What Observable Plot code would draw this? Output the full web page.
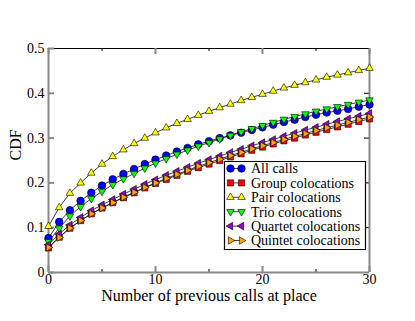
<!DOCTYPE html>
<html><head><meta charset="utf-8">
<script src="https://cdn.jsdelivr.net/npm/d3@7"></script>
<script src="https://cdn.jsdelivr.net/npm/@observablehq/plot@0.6"></script>
<style>
html,body{margin:0;padding:0;background:#fff;}
</style></head><body><div id="wrap"></div>
<script>
// ---- data ----
const xValues = [0,1,2,3,4,5,6,7,8,9,10,11,12,13,14,15,16,17,18,19,20,21,22,23,24,25,26,27,28,29,30];
const seriesNames = ["All calls","Group colocations","Pair colocations","Trio colocations","Quartet colocations","Quintet colocations"];
const allCalls = [0.077,0.113,0.139,0.160,0.178,0.194,0.208,0.220,0.231,0.242,0.252,0.261,0.270,0.278,0.286,0.293,0.300,0.306,0.312,0.318,0.324,0.330,0.336,0.341,0.347,0.352,0.357,0.361,0.365,0.370,0.375];
const groupColoc = [0.055,0.079,0.099,0.116,0.131,0.144,0.156,0.167,0.178,0.189,0.199,0.208,0.217,0.226,0.234,0.242,0.250,0.258,0.265,0.273,0.280,0.287,0.294,0.300,0.307,0.313,0.319,0.325,0.331,0.337,0.343];
const pairColoc = [0.103,0.145,0.177,0.200,0.222,0.242,0.259,0.274,0.288,0.300,0.312,0.323,0.333,0.342,0.351,0.360,0.368,0.376,0.384,0.391,0.398,0.405,0.412,0.418,0.424,0.430,0.436,0.441,0.446,0.451,0.456];
const trioColoc = [0.069,0.099,0.126,0.147,0.165,0.181,0.196,0.209,0.221,0.233,0.244,0.254,0.264,0.273,0.282,0.290,0.298,0.306,0.314,0.321,0.328,0.335,0.342,0.348,0.354,0.360,0.365,0.370,0.375,0.380,0.385];
const quartetColoc = [0.062,0.086,0.106,0.123,0.138,0.151,0.163,0.175,0.186,0.197,0.207,0.217,0.226,0.235,0.244,0.252,0.260,0.268,0.275,0.283,0.290,0.297,0.304,0.311,0.318,0.324,0.331,0.337,0.343,0.349,0.355];
const quintetColoc = [0.056,0.078,0.099,0.116,0.131,0.144,0.156,0.168,0.179,0.190,0.200,0.210,0.219,0.228,0.237,0.245,0.253,0.261,0.268,0.276,0.283,0.290,0.297,0.304,0.310,0.317,0.323,0.329,0.335,0.341,0.347];
const seriesValues = [allCalls, groupColoc, pairColoc, trioColoc, quartetColoc, quintetColoc];
const xTicks = [0,10,20,30];
const xMinorTicks = [5,15,25];
const yTicks = [0,0.1,0.2,0.3,0.4,0.5];
const xLabel = "Number of previous calls at place";
const yLabel = "CDF";

// ---- styles ----
function tri(angle){
  return {draw(ctx, size){
    const R = Math.sqrt(size/Math.PI)*1.18;
    for(let i=0;i<3;i++){const a=angle+i*2*Math.PI/3;const x=R*Math.cos(a),y=R*Math.sin(a);if(i)ctx.lineTo(x,y);else ctx.moveTo(x,y);}
    ctx.closePath();
  }};
}
const FONT = "'Liberation Serif','DejaVu Serif',serif";
const seriesColors = ["#0000ff","#ff0000","#ffff00","#00ff00","#9400d3","#ffa500"];
const seriesSymbols = [d3.symbolCircle, d3.symbolSquare, tri(-Math.PI/2), tri(Math.PI/2), tri(Math.PI), tri(0)];
const seriesR = [3.8,3.5,3.7,3.7,3.7,3.7];
const legendBox = {x:224, y:161, w:141, h:88};
const legendRowTop = 7.5, legendRowGap = 14.4;

// ---- chart ----
const marks = [
  Plot.ruleY([0.5],{stroke:"#000",strokeWidth:1}),
  Plot.ruleX(xTicks,{insetTop:218,stroke:"#888",strokeWidth:2}),
  Plot.ruleX(xTicks,{insetBottom:218,stroke:"#888",strokeWidth:2}),
  Plot.ruleX(xMinorTicks,{insetTop:221,stroke:"#000",strokeWidth:1}),
  Plot.ruleX(xMinorTicks,{insetBottom:221,stroke:"#000",strokeWidth:1}),
  Plot.ruleY(yTicks,{insetRight:315,stroke:"#888",strokeWidth:2}),
  Plot.ruleY(yTicks,{insetLeft:316,stroke:"#000",strokeWidth:1}),
  Plot.ruleX([0,30],{stroke:"#888",strokeWidth:2}),
  Plot.ruleY([0],{stroke:"#888",strokeWidth:2}),
  Plot.axisX({ticks:xTicks,tickSize:0,tickPadding:2,tickFormat:d=>String(d),label:null,fontSize:14}),
  Plot.axisY({ticks:yTicks,tickSize:0,tickPadding:4,tickFormat:d=>String(d),label:null,fontSize:14}),
  Plot.text([xLabel],{frameAnchor:"bottom",dy:28,fontSize:16}),
  Plot.text([yLabel],{frameAnchor:"left",dx:-33,rotate:-90,fontSize:16})
];
seriesValues.forEach((vals,i)=>{
  const data = xValues.map((x,j)=>({x, y: vals[j]}));
  marks.push(Plot.line(data,{x:"x",y:"y",stroke:"#111",strokeWidth:0.8}));
  marks.push(Plot.dot(data,{x:"x",y:"y",fill:seriesColors[i],stroke:"#000",strokeWidth:0.6,r:seriesR[i],symbol:seriesSymbols[i]}));
});

const chart = Plot.plot({
  width:415,height:321,marginLeft:48,marginRight:46,marginTop:48,marginBottom:49,
  style:`font-family:${FONT};font-size:14px;color:#000;background:#fff;`,
  x:{domain:[0,30]}, y:{domain:[0,0.5]},
  marks
});
chart.setAttribute("font-family", FONT);
document.getElementById("wrap").appendChild(chart);

// ---- legend (inside the SVG) ----
const svg = d3.select(chart);
const lg = svg.append("g").attr("transform",`translate(${legendBox.x},${legendBox.y})`)
  .attr("font-family",FONT).attr("text-anchor","start");
lg.append("rect").attr("x",0).attr("y",0).attr("width",legendBox.w+1).attr("height",legendBox.h+1)
  .attr("fill","#fff").attr("stroke","none");
const W = legendBox.w + 0.5, H = legendBox.h + 0.5;
[[0.5,0.5,W,0.5],[W,0.5,W,H],[W,H,0.5,H],[0.5,H,0.5,0.5]].forEach(([x1,y1,x2,y2])=>{
  lg.append("line").attr("x1",x1).attr("y1",y1).attr("x2",x2).attr("y2",y2)
    .attr("stroke","#000").attr("stroke-width",1.2).attr("stroke-linecap","square");
});
seriesNames.forEach((name,i)=>{
  const cy = legendRowTop + i*legendRowGap;
  lg.append("line").attr("x1",6.5).attr("x2",17.5).attr("y1",cy).attr("y2",cy).attr("stroke","#111").attr("stroke-width",0.8);
  const size = Math.PI*seriesR[i]*seriesR[i];
  [6.5,17.5].forEach(cx=>{
    lg.append("path").attr("d",d3.symbol().type(seriesSymbols[i]).size(size)())
      .attr("transform",`translate(${cx},${cy})`).attr("fill",seriesColors[i]).attr("stroke","#000").attr("stroke-width",0.6);
  });
  lg.append("text").attr("x",27).attr("y",cy).attr("dy","0.35em").attr("text-anchor","start")
    .attr("font-family",FONT).attr("font-size",14).attr("fill","#000").text(name);
});
</script>
</body></html>
